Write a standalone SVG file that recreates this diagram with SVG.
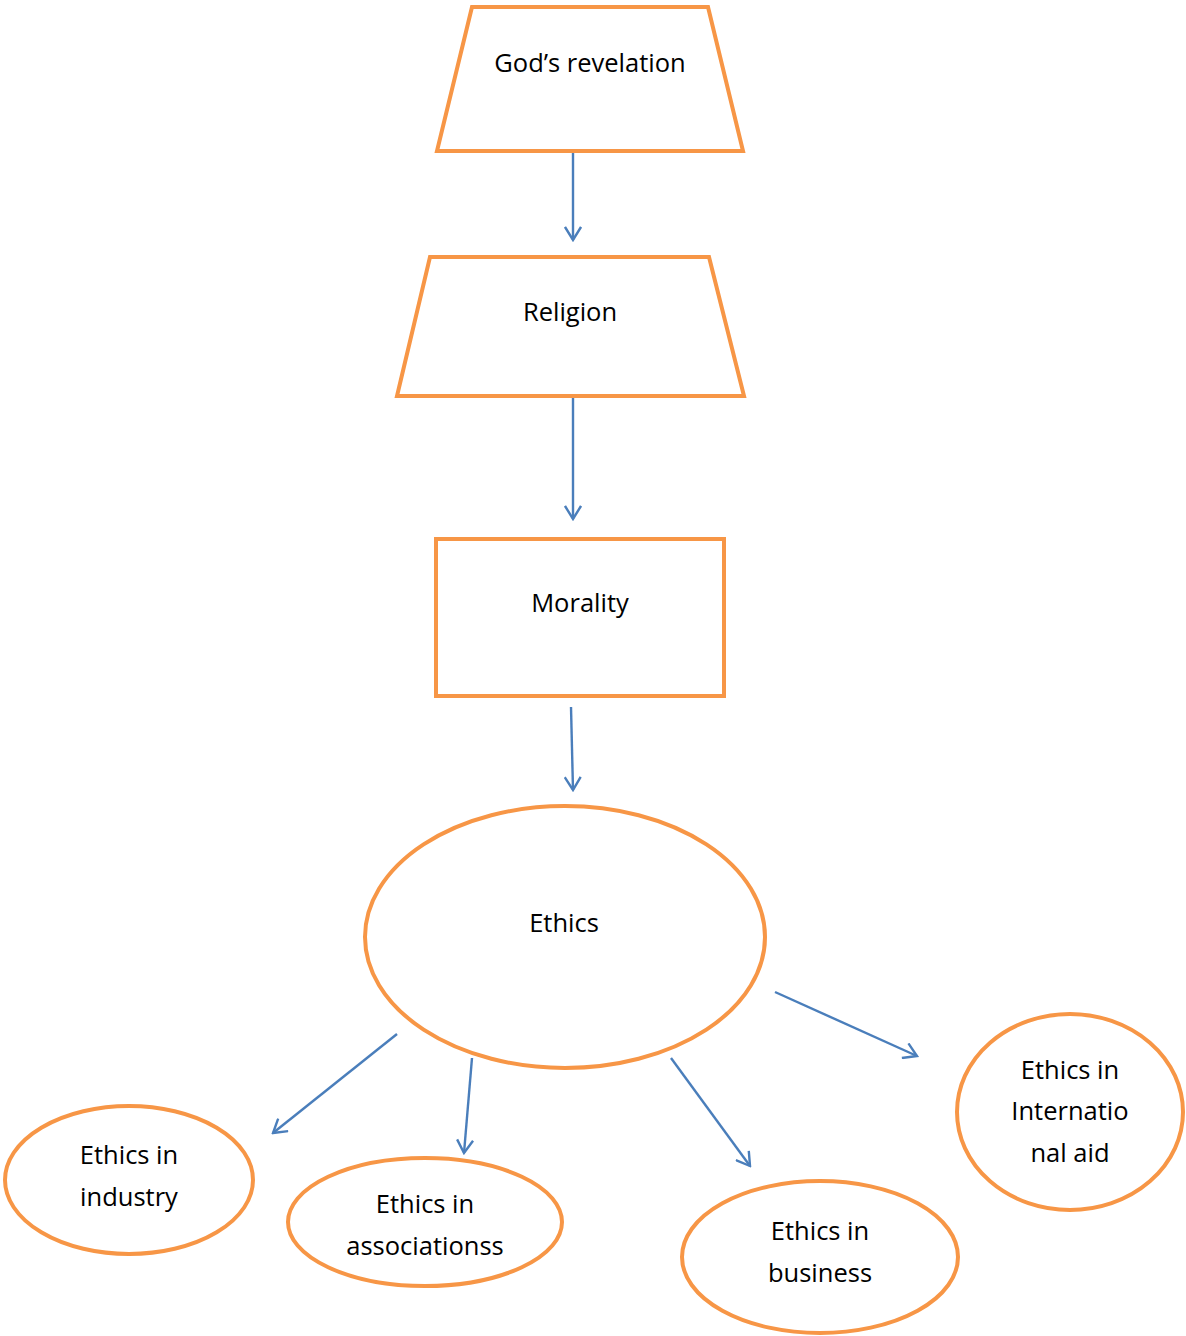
<svg xmlns="http://www.w3.org/2000/svg" width="1186" height="1336" viewBox="0 0 1186 1336">
  <defs>
    <style>
      .shape { fill: #ffffff; stroke: #F79646; stroke-width: 4; }
      .lbl { font-family: "Open Sans", "Liberation Sans", sans-serif; font-size: 25.5px; fill: #000000; text-anchor: middle; }
      .conn { stroke: #4A7EBB; stroke-width: 2.4; fill: none; marker-end: url(#open); }
    </style>
    <marker id="open" viewBox="0 0 18 18" refX="16" refY="9" markerWidth="18" markerHeight="18" markerUnits="userSpaceOnUse" orient="auto">
      <path d="M3,1 L16,9 L3,17" fill="none" stroke="#4A7EBB" stroke-width="2.4"/>
    </marker>
  </defs>
  <rect width="1186" height="1336" fill="#ffffff"/>

  <g id="connectors">
    <line class="conn" x1="573" y1="151" x2="573" y2="240"/>
    <line class="conn" x1="573" y1="396" x2="573" y2="519"/>
    <line class="conn" x1="571" y1="707" x2="573" y2="790"/>
    <line class="conn" x1="397" y1="1034" x2="273" y2="1133"/>
    <line class="conn" x1="472" y1="1058" x2="464" y2="1153"/>
    <line class="conn" x1="671" y1="1058" x2="750" y2="1166"/>
    <line class="conn" x1="775" y1="992" x2="917" y2="1056"/>
  </g>

  <g id="gods-revelation">
    <polygon class="shape" points="472,7 708,7 743,151 437,151"/>
    <text class="lbl" x="590" y="72">God’s revelation</text>
  </g>

  <g id="religion">
    <polygon class="shape" points="430,257 709,257 744,396 397,396"/>
    <text class="lbl" x="570" y="321">Religion</text>
  </g>

  <g id="morality">
    <rect class="shape" x="436" y="539" width="288" height="157"/>
    <text class="lbl" x="580" y="612">Morality</text>
  </g>

  <g id="ethics">
    <ellipse class="shape" cx="565" cy="937" rx="200" ry="131"/>
    <text class="lbl" x="564" y="932">Ethics</text>
  </g>

  <g id="ethics-industry">
    <ellipse class="shape" cx="129" cy="1180" rx="124" ry="74"/>
    <text class="lbl" x="129" y="1164">Ethics in</text>
    <text class="lbl" x="129" y="1206">industry</text>
  </g>

  <g id="ethics-associations">
    <ellipse class="shape" cx="425" cy="1222" rx="137" ry="64"/>
    <text class="lbl" x="425" y="1213">Ethics in</text>
    <text class="lbl" x="425" y="1255">associationss</text>
  </g>

  <g id="ethics-business">
    <ellipse class="shape" cx="820" cy="1257" rx="138" ry="76"/>
    <text class="lbl" x="820" y="1240">Ethics in</text>
    <text class="lbl" x="820" y="1282">business</text>
  </g>

  <g id="ethics-international-aid">
    <ellipse class="shape" cx="1070" cy="1112" rx="113" ry="98"/>
    <text class="lbl" x="1070" y="1079">Ethics in</text>
    <text class="lbl" x="1070" y="1120">Internatio</text>
    <text class="lbl" x="1070" y="1162">nal aid</text>
  </g>
</svg>
